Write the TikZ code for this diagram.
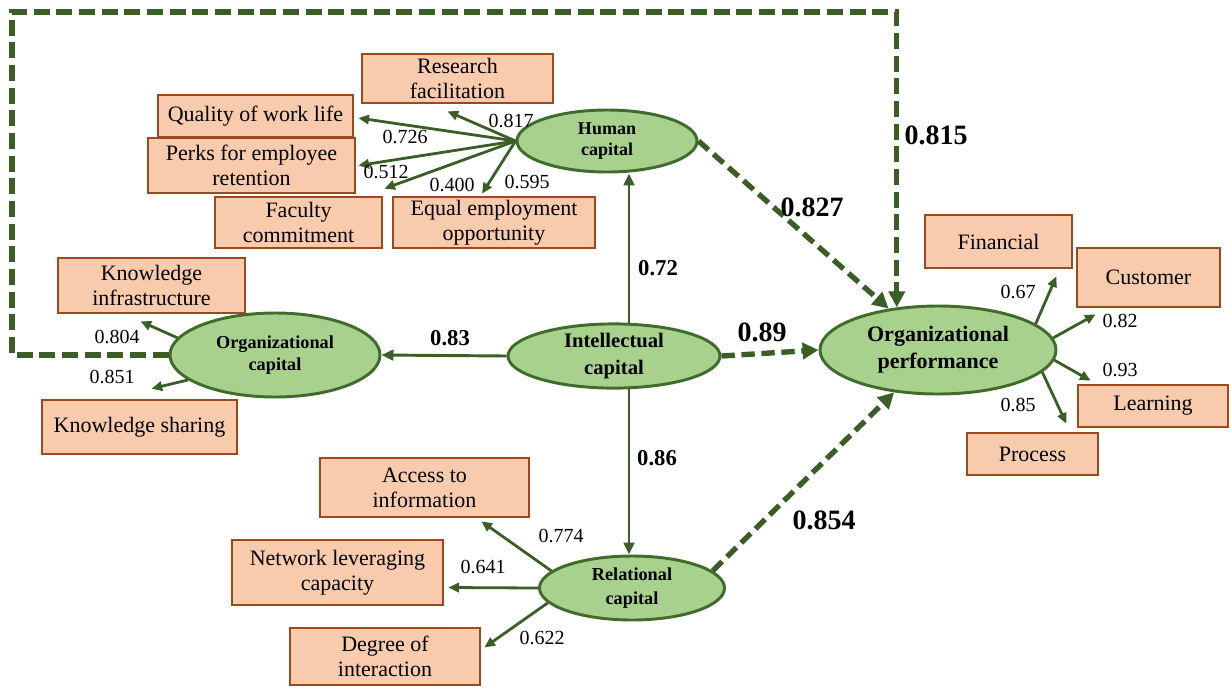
\documentclass[tikz,border=0pt]{standalone}
\usepackage{fontspec}
\setmainfont{Liberation Serif}
\usetikzlibrary{shapes.geometric,arrows.meta,calc}
\definecolor{boxfill}{HTML}{F8CBAD}
\definecolor{boxline}{HTML}{9A4A1C}
\definecolor{lvfill}{HTML}{A9D18E}
\definecolor{lvline}{HTML}{3F6B2B}
\definecolor{arrgreen}{HTML}{3B5E27}
\tikzset{
  indicator/.style={draw=boxline, fill=boxfill, line width=2pt, inner sep=0pt,
    align=center, font=\fontsize{16.5}{19}\selectfont},
  sz/.style 2 args={minimum width=#1*0.75pt, minimum height=#2*0.75pt},
  latent/.style={ellipse, draw=lvline, fill=lvfill, line width=2.2pt,
    inner sep=0pt, align=center},
  loading/.style={draw=arrgreen, line width=2.1pt, -{Triangle[length=8pt,width=7pt]}},
  effect/.style={draw=arrgreen, line width=2.2pt, -{Triangle[length=9pt,width=8pt]}},
  mediated/.style={draw=arrgreen, line width=4pt, dash pattern=on 10pt off 5pt,
    -{Triangle[length=12pt,width=12pt]}},
  frame/.style={draw=arrgreen, line width=4pt, dash pattern=on 12pt off 5pt,
    -{Triangle[length=12pt,width=12pt]}},
  wt/.style={font=\fontsize{15}{15}\selectfont, inner sep=0pt},
  coef/.style={font=\bfseries\fontsize{17}{17}\selectfont, inner sep=0pt},
  bigcoef/.style={font=\bfseries\fontsize{21}{21}\selectfont, inner sep=0pt},
}
\begin{document}
\begin{tikzpicture}[x=0.75pt,y=-0.75pt]
\useasboundingbox (0,0) rectangle (1231,687);

% latent constructs
\node[latent, sz={180}{62}, font=\bfseries\fontsize{13.5}{16}\selectfont] (hc) at (607,141) {Human\\capital};
\node[latent, sz={210}{84}, font=\bfseries\fontsize{13.7}{17}\selectfont] (oc) at (275,355) {Organizational\\capital};
\node[latent, sz={212}{62}, font=\bfseries\fontsize{15.5}{20}\selectfont] (ic) at (614,356) {Intellectual\\capital};
\node[latent, sz={236}{88}, font=\bfseries\fontsize{16.5}{20}\selectfont] (op) at (938,350) {Organizational\\performance};
\node[latent, sz={185}{64}, font=\bfseries\fontsize{13.7}{17.5}\selectfont] (rc) at (632,588) {Relational\\capital};

% indicators of human capital
\node[indicator, sz={191}{49}] (rf) at (457.5,78.5) {Research\\facilitation};
\node[indicator, sz={195}{42}] (qw) at (255.5,116) {Quality of work life};
\node[indicator, sz={207}{55}] (pe) at (251.5,165.5) {Perks for employee\\retention};
\node[indicator, sz={167}{51}] (fc) at (298.5,222.5) {Faculty\\commitment};
\node[indicator, sz={202}{51}] (ee) at (494,222.5) {Equal employment\\opportunity};

% indicators of organizational capital
\node[indicator, sz={187}{55}] (ki) at (151.5,285.5) {Knowledge\\infrastructure};
\node[indicator, sz={195}{54}] (ks) at (139.5,427) {Knowledge sharing};

% indicators of relational capital
\node[indicator, sz={209}{59}] (ai) at (424.5,487.5) {Access to\\information};
\node[indicator, sz={211}{65}] (nl) at (337.5,572.5) {Network leveraging\\capacity};
\node[indicator, sz={190}{57}] (di) at (385,656.5) {Degree of\\interaction};

% indicators of organizational performance
\node[indicator, sz={147}{53}] (fi) at (998.5,241.5) {Financial};
\node[indicator, sz={143}{59}] (cu) at (1148.5,277.5) {Customer};
\node[indicator, sz={150}{42}] (le) at (1153,406) {Learning};
\node[indicator, sz={131}{42}] (pr) at (1032.5,454) {Process};

% loadings: human capital
\draw[loading] (hc.west) -- ($(rf.south)+(-10,7)$);
\draw[loading] (hc.west) -- ($(qw.east)+(4,2)$);
\draw[loading] (hc.west) -- ($(pe.east)+(2,0)$);
\draw[loading] (hc.west) -- ($(fc.north east)+(1,-7)$);
\draw[loading] (hc.west) -- ($(ee.north)+(-12,-2)$);
\node[wt] (l817) at (511,121) {0.817};
\node[wt] (l726) at (405,137) {0.726};
\node[wt] (l512) at (386,172) {0.512};
\node[wt] (l400) at (452,185) {0.400};
\node[wt] (l595) at (527,182) {0.595};

% loadings: organizational capital
\draw[loading] (oc.170) -- ($(ki.south)+(-11,7)$);
\draw[loading] (oc.196) -- ($(ks.north)+(12,-10)$);
\node[wt] (l804) at (117,337) {0.804};
\node[wt] (l851) at (112,377) {0.851};

% loadings: relational capital
\draw[loading] (rc.168) -- ($(ai.south east)+(-49,3)$);
\draw[loading] (rc.west) -- ($(nl.east)+(4,15)$);
\draw[loading] (rc.190) -- ($(di.east)+(3,-9)$);
\node[wt] (l774) at (561,536) {0.774};
\node[wt] (l641) at (483,567) {0.641};
\node[wt] (l622) at (542,638) {0.622};

% loadings: organizational performance
\draw[loading] (op.15) -- ($(fi.south east)+(-17,7)$);
\draw[loading] (op.6) -- ($(cu.south west)+(20,6)$);
\draw[loading] (op.-5) -- ($(le.north west)+(14,-3)$);
\draw[loading] (op.-12) -- ($(pr.north east)+(-33,-8)$);
\node[wt] (l67) at (1018,292) {0.67};
\node[wt] (l82) at (1120,321) {0.82};
\node[wt] (l93) at (1120,370) {0.93};
\node[wt] (l85) at (1018,405) {0.85};

% structural paths from intellectual capital
\draw[effect] (ic.west) -- (oc.east);
\draw[effect] ($(ic.north)+(15,1)$) -- ($(hc.south)+(22,0)$);
\draw[effect] ($(ic.south)+(15,-1)$) -- ($(rc.north)+(-3,0)$);
\node[coef] (c83) at (450,338) {0.83};
\node[coef] (c72) at (658,268) {0.72};
\node[coef] (c86) at (657,458) {0.86};

% paths to organizational performance
\draw[mediated] (ic.east) -- (op.west);
\draw[mediated] (hc.east) -- (op.140);
\draw[mediated] (rc.12) -- (op.224);
\coordinate (corner) at (12,12);
\draw[frame] (oc.west) -| (corner) -| (op.134);
\node[bigcoef] (c89) at (762,332) {0.89};
\node[bigcoef] (c827) at (812,207) {0.827};
\node[bigcoef] (c854) at (824,520) {0.854};
\node[bigcoef] (c815) at (936,135) {0.815};
\end{tikzpicture}
\end{document}
